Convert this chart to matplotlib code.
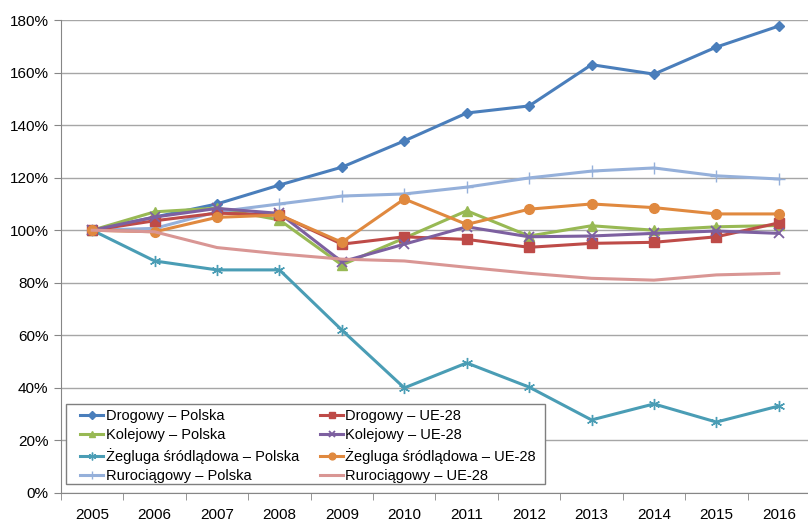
import numpy as np
import matplotlib.pyplot as plt
from matplotlib.patches import Rectangle
from matplotlib.ticker import FuncFormatter, FixedLocator

plt.rcParams['font.family'] = ['Liberation Sans', 'DejaVu Sans']

# lata
years = ['2005', '2006', '2007', '2008', '2009', '2010', '2011',
         '2012', '2013', '2014', '2015', '2016']

# wartości w % (2005 = 100%)
drogowy_pl = [100, 105, 110, 117.2, 124, 134, 144.6, 147.3, 163, 159.4, 169.7, 177.7]
drogowy_ue = [100, 103.6, 106.5, 105.8, 94.7, 97.5, 96.5, 93.5, 95, 95.4, 97.5, 102.8]
kolejowy_pl = [100, 107, 108.4, 103.9, 86.8, 97, 107.4, 97.8, 101.7, 100, 101.3, 101.8]
kolejowy_ue = [100, 105, 108.3, 106.4, 88, 94.7, 101.3, 97.5, 97.8, 98.8, 99.7, 98.8]
zegluga_pl = [100, 88.3, 84.9, 84.9, 62, 40, 49.5, 40.3, 27.8, 33.9, 27, 33.1]
zegluga_ue = [100, 99.4, 104.9, 105.8, 95.4, 111.9, 102.2, 108, 110, 108.6, 106.2, 106.2]
ruro_pl = [100, 100.7, 107, 110, 113, 113.8, 116.4, 119.9, 122.5, 123.7, 120.7, 119.5]
ruro_ue = [100, 99.4, 93.4, 91, 89, 88.3, 85.9, 83.6, 81.7, 81, 83, 83.6]

fig = plt.figure(figsize=(8.08, 5.23), dpi=100)
ax = fig.add_axes([61 / 808, 1 - 493 / 523, 749 / 808, 473 / 523])

x = np.arange(len(years))
lw = 2.2

h1, = ax.plot(x, drogowy_pl, color='#4A7EBB', marker='D', ms=5.5, lw=lw, label='Drogowy – Polska')
h3, = ax.plot(x, kolejowy_pl, color='#98B954', marker='^', ms=7, lw=lw, label='Kolejowy – Polska')
h5, = ax.plot(x, zegluga_pl, color='#4A9DB5', marker=(6, 2, 0), ms=8, mew=1.0, lw=lw,
              label='Żegluga śródlądowa – Polska')
h7, = ax.plot(x, ruro_pl, color='#95B0DA', marker='+', ms=9, mew=1.0, lw=lw,
              label='Rurociągowy – Polska')
h2, = ax.plot(x, drogowy_ue, color='#BE4B48', marker='s', ms=6.5, lw=lw, label='Drogowy – UE-28')
h4, = ax.plot(x, kolejowy_ue, color='#7D60A0', marker='x', ms=7, mew=1.3, lw=lw,
              label='Kolejowy – UE-28')
h6, = ax.plot(x, zegluga_ue, color='#E0893F', marker='o', ms=7, lw=lw,
              label='Żegluga śródlądowa – UE-28')
h8, = ax.plot(x, ruro_ue, color='#D99694', lw=lw, label='Rurociągowy – UE-28')

ax.set_xlim(-0.5, 11.5)
ax.set_ylim(0, 180)
ax.set_yticks(np.arange(0, 181, 20))
ax.yaxis.set_major_formatter(FuncFormatter(lambda v, p: f'{v:.0f}%'))
ax.set_xticks(x)
ax.set_xticklabels(years)
ax.xaxis.set_minor_locator(FixedLocator(np.arange(-0.5, 12, 1)))
ax.tick_params(axis='x', which='major', length=0, pad=11, labelsize=11)
ax.tick_params(axis='x', which='minor', length=5, color='#868686')
ax.tick_params(axis='y', length=5, color='#868686', labelsize=11, pad=4)

ax.grid(axis='y', color='#A6A6A6', lw=1)
ax.set_axisbelow(True)
for s in ['top', 'right']:
    ax.spines[s].set_visible(False)
for s in ['left', 'bottom']:
    ax.spines[s].set_color('#868686')

# ramka legendy
ax.add_patch(Rectangle((5 / 749, 9 / 473), 479 / 749, 80 / 473, transform=ax.transAxes,
                       facecolor='white', edgecolor='#7F7F7F', lw=1, zorder=5))

# kolumna 1: Polska, kolumna 2: UE-28
leg = ax.legend(handles=[h1, h3, h5, h7, h2, h4, h6, h8], ncol=2, loc='upper left',
                bbox_to_anchor=(19 / 749, 84 / 473, 456 / 749, 0.0), mode='expand',
                fontsize=10.5, frameon=False, handlelength=1.6,
                handletextpad=0.15, labelspacing=0.37, borderpad=0, borderaxespad=0,
                markerscale=0.7)
leg.set_zorder(6)

plt.savefig('out.png', dpi=100)
